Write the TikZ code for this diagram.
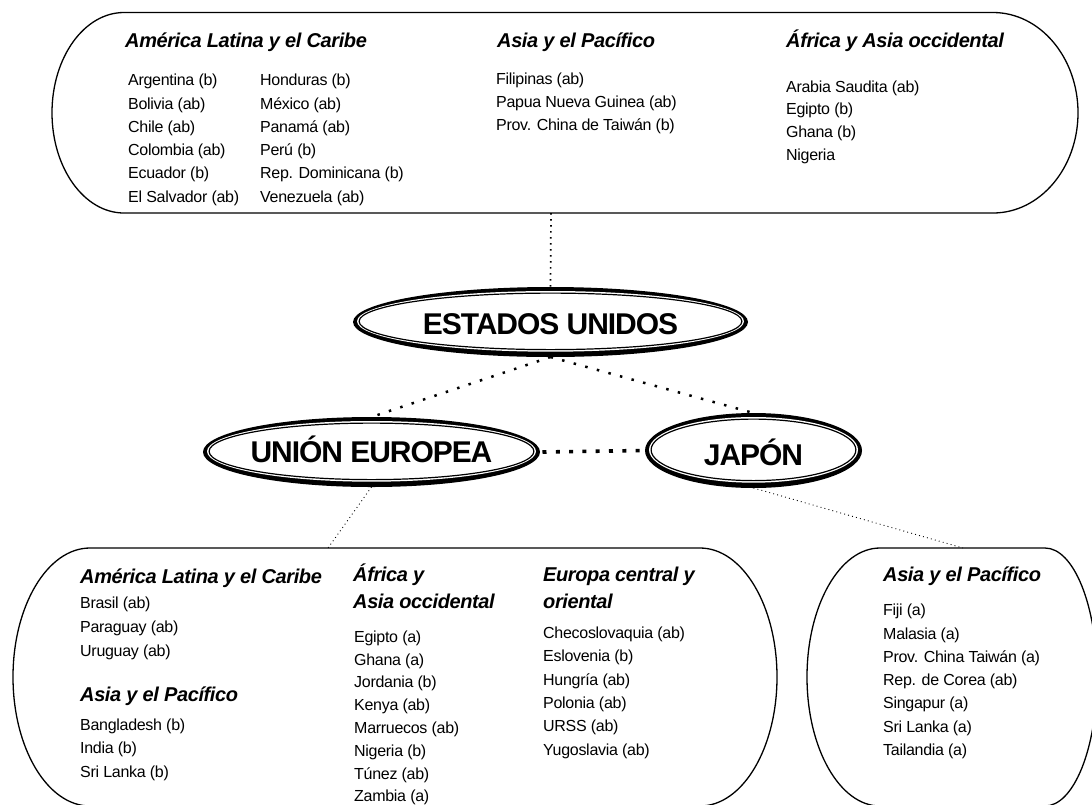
\documentclass[tikz,border=0pt]{standalone}
\usepackage{fontspec}
\setmainfont{Liberation Sans}
\newfontfamily\bodyf{Liberation Sans}[LetterSpace=-1.8]
\newfontfamily\headf{Liberation Sans}[LetterSpace=-2.0]
\newfontfamily\bigf{Liberation Sans}[LetterSpace=-3.5]
\usetikzlibrary{shapes.geometric,backgrounds}
\tikzset{
  box/.style={line width=1.3pt},
  hdr/.style={anchor=north west, inner sep=0pt, align=left, font=\headf\bfseries\itshape\fontsize{20}{27}\selectfont},
  lst/.style={anchor=north west, inner sep=0pt, align=left, font=\bodyf\fontsize{16}{23.3}\selectfont},
  bigell/.style={ellipse, inner sep=0pt, outer sep=0pt, text depth=0pt, font=\bigf\bfseries\fontsize{30}{30}\selectfont},
  inell/.style={line width=1.2pt},
  dotV/.style={line width=1.7pt, dash pattern=on 1.7pt off 4.3pt},
  dotM/.style={line width=2.5pt, dash pattern=on 2.5pt off 9.5pt},
  dotH/.style={line width=3.6pt, dash pattern=on 4pt off 9.3pt},
  dotS/.style={line width=0.9pt, dash pattern=on 0.9pt off 3.2pt},
}
\newcommand{\fs}{\rule{0pt}{14pt}}
\newcommand{\hs}{\rule{0pt}{20pt}}
\begin{document}
\begin{tikzpicture}[x=1pt,y=1pt]
\useasboundingbox (0,0) rectangle (1092,-804);
\clip (0,0) rectangle (1092,-804);

% containers
\draw[box] (124,-12.5) -- (993,-12.5) arc[start angle=90,end angle=-90,x radius=85pt,y radius=100.25pt]
  -- (124,-213) arc[start angle=270,end angle=90,x radius=72pt,y radius=100.25pt] -- cycle;
\draw[box] (90,-548) -- (700,-548) arc[start angle=90,end angle=-90,x radius=77pt,y radius=129pt]
  -- (90,-806) arc[start angle=270,end angle=90,x radius=77pt,y radius=129pt] -- cycle;
\draw[box] (880,-548) -- (1045,-548) arc[start angle=90,end angle=-90,x radius=52pt,y radius=129pt]
  -- (880,-806) arc[start angle=270,end angle=90,x radius=73pt,y radius=129pt] -- cycle;

\coordinate (topS) at (551,-213);
\coordinate (blN) at (328,-548);
\coordinate (brN) at (963,-548);

% top container text
\node[hdr] (h1) at (125,-27) {\hs Am\'erica Latina y el Caribe};
\node[hdr] (h2) at (497,-27) {\hs Asia y el Pac\'ifico};
\node[hdr] (h3) at (786,-27) {\hs \'Africa y Asia occidental};
\node[lst] (c1) at (128,-71.5) {\fs Argentina (b)\\Bolivia (ab)\\Chile (ab)\\Colombia (ab)\\Ecuador (b)\\El Salvador (ab)};
\node[lst] (c2) at (260,-71.5) {\fs Honduras (b)\\México (ab)\\Panamá (ab)\\Perú (b)\\Rep. Dominicana (b)\\Venezuela (ab)};
\node[lst, font=\bodyf\fontsize{16}{23}\selectfont] (c3) at (496,-70) {\fs Filipinas (ab)\\Papua Nueva Guinea (ab)\\Prov. China de Taiwán (b)};
\node[lst, font=\bodyf\fontsize{16}{22.7}\selectfont] (c4) at (786,-78) {\fs Arabia Saudita (ab)\\Egipto (b)\\Ghana (b)\\Nigeria};

% bottom-left container text
\node[hdr] (h4) at (80,-563) {\hs América Latina y el Caribe};
\node[lst, font=\bodyf\fontsize{16}{24.3}\selectfont] (c5) at (80,-594) {\fs Brasil (ab)\\Paraguay (ab)\\Uruguay (ab)};
\node[hdr] (h5) at (80,-681) {\hs Asia y el Pacífico};
\node[lst, font=\bodyf\fontsize{16}{23.5}\selectfont] (c6) at (80,-716) {\fs Bangladesh (b)\\India (b)\\Sri Lanka (b)};
\node[hdr] (h6) at (353,-561) {\hs África y\\Asia occidental};
\node[lst, font=\bodyf\fontsize{16}{22.8}\selectfont] (c7) at (354,-628) {\fs Egipto (a)\\Ghana (a)\\Jordania (b)\\Kenya (ab)\\Marruecos (ab)\\Nigeria (b)\\Túnez (ab)\\Zambia (a)};
\node[hdr] (h7) at (543,-561) {\hs Europa central y\\oriental};
\node[lst, font=\bodyf\fontsize{16}{23.4}\selectfont] (c8) at (543,-624) {\fs Checoslovaquia (ab)\\Eslovenia (b)\\Hungría (ab)\\Polonia (ab)\\URSS (ab)\\Yugoslavia (ab)};

% bottom-right container text
\node[hdr] (h8) at (883,-561) {\hs Asia y el Pacífico};
\node[lst] (c9) at (883,-601.5) {\fs Fiji (a)\\Malasia (a)\\Prov. China Taiwán (a)\\Rep. de Corea (ab)\\Singapur (a)\\Sri Lanka (a)\\Tailandia (a)};

% ellipse nodes
\node[bigell, minimum width=395pt, minimum height=70pt, text height=25.5pt] (us) at (550.5,-322) {ESTADOS UNIDOS};
\node[bigell, minimum width=337pt, minimum height=70pt, text height=21.5pt] (ue) at (371.5,-452) {UNIÓN EUROPEA};
\node[bigell, minimum width=217pt, minimum height=75pt, text height=30.5pt] (jp) at (753.5,-450.5) {JAPÓN};

\begin{scope}[on background layer]
  \fill[black] (us.center) ellipse [x radius=197.5pt, y radius=35pt];
  \fill[white] ([yshift=0.65pt]us.center) ellipse [x radius=193.5pt, y radius=30.35pt];
  \draw[inell] ([yshift=0.65pt]us.center) ellipse [x radius=191.4pt, y radius=28.25pt];
  \fill[black] (ue.center) ellipse [x radius=168.5pt, y radius=35pt];
  \fill[white] ([yshift=0.65pt]ue.center) ellipse [x radius=164.5pt, y radius=30.35pt];
  \draw[inell] ([yshift=0.65pt]ue.center) ellipse [x radius=162.4pt, y radius=28.25pt];
  \fill[black] (jp.center) ellipse [x radius=108.5pt, y radius=37.5pt];
  \fill[white] ([yshift=0.65pt]jp.center) ellipse [x radius=104.5pt, y radius=32.85pt];
  \draw[inell] ([yshift=0.65pt]jp.center) ellipse [x radius=102.4pt, y radius=30.75pt];
\end{scope}

% connectors
\draw[dotV] (topS) -- (us.north);
\draw[dotM] (us.south) -- (ue.north);
\draw[dotM] (us.south) -- (jp.north);
\draw[dotH] (ue.east) -- (jp.west);
\draw[dotS] (ue.south) -- (blN);
\draw[dotS] (jp.south) -- (brN);
\end{tikzpicture}
\end{document}
